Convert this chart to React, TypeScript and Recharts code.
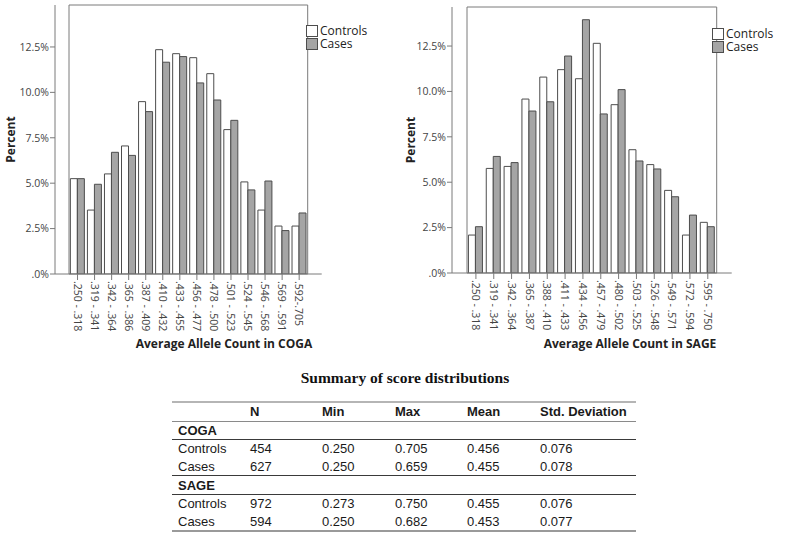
import { BarChart, Bar, XAxis, YAxis, Legend, ReferenceArea } from "recharts";

const cogaBins = [
  ".250 - .318", ".319 - .341", ".342 - .364", ".365 - .386", ".387 - .409",
  ".410 - .432", ".433 - .455", ".456 - .477", ".478 - .500", ".501 - .523",
  ".524 - .545", ".546 - .568", ".569 - .591", ".592-.705",
];
const cogaControls = [5.25, 3.52, 5.51, 7.05, 9.49, 12.35, 12.13, 11.91, 11.03, 7.95, 5.07, 3.52, 2.64, 2.64];
const cogaCases = [5.25, 4.94, 6.7, 6.53, 8.94, 11.66, 11.97, 10.52, 9.58, 8.46, 4.63, 5.12, 2.39, 3.36];

const sageBins = [
  ".250 - .318", ".319 - .341", ".342 - .364", ".365 - .387", ".388 - .410",
  ".411 - .433", ".434 - .456", ".457 - .479", ".480 - .502", ".503 - .525",
  ".526 - .548", ".549 - .571", ".572 - .594", ".595 - .750",
];
const sageControls = [2.09, 5.76, 5.87, 9.58, 10.79, 11.2, 10.7, 12.65, 9.27, 6.79, 5.97, 4.55, 2.09, 2.79];
const sageCases = [2.55, 6.42, 6.08, 8.92, 9.43, 11.95, 13.95, 8.76, 10.1, 6.17, 5.73, 4.2, 3.19, 2.55];

const percentTicks = [0, 2.5, 5, 7.5, 10, 12.5];

const tableHeader = ["", "N", "Min", "Max", "Mean", "Std. Deviation"];
const tableGroups = [
  {
    name: "COGA",
    rows: [
      ["Controls", "454", "0.250", "0.705", "0.456", "0.076"],
      ["Cases", "627", "0.250", "0.659", "0.455", "0.078"],
    ],
  },
  {
    name: "SAGE",
    rows: [
      ["Controls", "972", "0.273", "0.750", "0.455", "0.076"],
      ["Cases", "594", "0.250", "0.682", "0.453", "0.077"],
    ],
  },
];

const FONT = "'Open Sans', sans-serif";
const EDGE = "#7a7a7a";
const BAR_EDGE = "#4d4d4d";
const CASE_FILL = "#a5a5a5";

const series = [
  { key: "controls", name: "Controls", fill: "#ffffff" },
  { key: "cases", name: "Cases", fill: CASE_FILL },
];

const fmtPct = (v: number) => (v === 0 ? ".0%" : `${v.toFixed(1)}%`);

function BinTick({ x, y, payload }: any) {
  return (
    <text
      x={x}
      y={y}
      dy="0.36em"
      textAnchor="start"
      transform={`rotate(90, ${x}, ${y})`}
      fontFamily={FONT}
      fontSize={10.5}
      fill="#444"
    >
      {payload.value}
    </text>
  );
}

function LegendBox() {
  return (
    <div style={{ fontFamily: FONT, fontSize: 12, color: "#222" }}>
      {series.map((s) => (
        <div key={s.key} style={{ display: "flex", alignItems: "center", height: 13, lineHeight: "13px" }}>
          <span
            style={{
              display: "inline-block",
              width: 10,
              height: 10,
              border: `1px solid ${BAR_EDGE}`,
              background: s.fill,
              marginRight: 2,
            }}
          />
          {s.name}
        </div>
      ))}
    </div>
  );
}

interface HistProps {
  bins: string[];
  controls: number[];
  cases: number[];
  yMax: number;
  yWidth: number;
  margin: { top: number; right: number; bottom: number; left: number };
  xHeight: number;
  pad: { left: number; right: number };
  legendPos: { top: number; left: number };
}

function Histogram({ bins, controls, cases, yMax, yWidth, margin, xHeight, pad, legendPos }: HistProps) {
  const data = bins.map((bin, i) => ({ bin, controls: controls[i], cases: cases[i] }));
  return (
    <BarChart width={400} height={350} data={data} margin={margin} barGap={0} barCategoryGap="8%">
      <XAxis
        dataKey="bin"
        interval={0}
        height={xHeight}
        padding={pad}
        tick={<BinTick />}
        tickSize={6}
        tickMargin={1}
        tickLine={{ stroke: EDGE }}
        axisLine={{ stroke: EDGE }}
      />
      <YAxis
        width={yWidth}
        domain={[0, yMax]}
        ticks={percentTicks}
        tickFormatter={fmtPct}
        tickSize={5}
        tickMargin={1}
        tick={{ fontFamily: FONT, fontSize: 10.5, fill: "#444" }}
        tickLine={{ stroke: EDGE }}
        axisLine={{ stroke: EDGE }}
        allowDataOverflow
        label={{
          value: "Percent",
          angle: -90,
          position: "insideLeft",
          offset: 11,
          style: { textAnchor: "middle", fontFamily: FONT, fontSize: 12, fontWeight: 700, fill: "#222" },
        }}
      />
      <ReferenceArea y1={0} y2={yMax} fill="none" fillOpacity={0} stroke={EDGE} strokeWidth={1} ifOverflow="visible" />
      <Legend
        layout="vertical"
        verticalAlign="top"
        align="right"
        content={<LegendBox />}
        wrapperStyle={{ top: legendPos.top, left: legendPos.left, width: "auto" }}
      />
      {series.map((s) => (
        <Bar
          key={s.key}
          dataKey={s.key}
          name={s.name}
          fill={s.fill}
          stroke={BAR_EDGE}
          strokeWidth={1}
          isAnimationActive={false}
        />
      ))}
    </BarChart>
  );
}

const axisTitle: React.CSSProperties = {
  position: "absolute",
  top: 335,
  width: 300,
  textAlign: "center",
  fontFamily: FONT,
  fontSize: 12,
  fontWeight: 700,
  color: "#222",
};

const cellBase: React.CSSProperties = {
  padding: "0 0 0 6px",
  height: 17.6,
  lineHeight: "17px",
  textAlign: "left",
  whiteSpace: "nowrap",
};
const colWidths = [72, 72, 73, 72, 73, 102];
const darkLine = "1px solid #3a3a3a";

export default function App() {
  return (
    <div style={{ position: "absolute", left: 0, top: 0, width: 800, height: 537, background: "#fff" }}>
      <div style={{ position: "absolute", left: 0, top: 0 }}>
        <Histogram
          bins={cogaBins}
          controls={cogaControls}
          cases={cogaCases}
          yMax={14.81}
          yWidth={55}
          margin={{ top: 5, right: 17, bottom: 0, left: 0 }}
          xHeight={76}
          pad={{ left: 14, right: 14 }}
          legendPos={{ top: 24, left: 306 }}
        />
      </div>
      <div style={{ ...axisTitle, left: 74 }}>Average Allele Count in COGA</div>
      <div style={{ position: "absolute", left: 400, top: 0 }}>
        <Histogram
          bins={sageBins}
          controls={sageControls}
          cases={sageCases}
          yMax={14.65}
          yWidth={52}
          margin={{ top: 7, right: 7, bottom: 0, left: 0 }}
          xHeight={77}
          pad={{ left: 15, right: 15 }}
          legendPos={{ top: 27, left: 312 }}
        />
      </div>
      <div style={{ ...axisTitle, left: 480 }}>Average Allele Count in SAGE</div>
      <div
        style={{
          position: "absolute",
          left: 150,
          top: 369,
          width: 510,
          textAlign: "center",
          fontFamily: "'Liberation Serif', 'Times New Roman', serif",
          fontWeight: 700,
          fontSize: 15.5,
          color: "#111",
        }}
      >
        Summary of score distributions
      </div>
      <table
        style={{
          position: "absolute",
          left: 172,
          top: 401,
          borderCollapse: "collapse",
          fontFamily: "'Liberation Sans', Arial, sans-serif",
          fontSize: 13,
          color: "#1a1a1a",
          tableLayout: "fixed",
          width: colWidths.reduce((a, b) => a + b, 0),
        }}
      >
        <colgroup>
          {colWidths.map((w, i) => (
            <col key={i} style={{ width: w }} />
          ))}
        </colgroup>
        <tbody>
          <tr style={{ borderTop: "2px solid #b5b5b5", borderBottom: "1px solid #8a8a8a" }}>
            {tableHeader.map((h, i) => (
              <th key={i} style={{ ...cellBase, fontWeight: 700 }}>
                {h}
              </th>
            ))}
          </tr>
          {tableGroups.map((g, gi) => [
            <tr key={g.name} style={{ borderTop: gi > 0 ? darkLine : undefined, borderBottom: darkLine }}>
              <td colSpan={6} style={{ ...cellBase, fontWeight: 700 }}>
                {g.name}
              </td>
            </tr>,
            ...g.rows.map((r, ri) => (
              <tr
                key={g.name + ri}
                style={{ borderBottom: gi === tableGroups.length - 1 && ri === g.rows.length - 1 ? "2px solid #9a9a9a" : undefined }}
              >
                {r.map((c, ci) => (
                  <td key={ci} style={cellBase}>
                    {c}
                  </td>
                ))}
              </tr>
            )),
          ])}
        </tbody>
      </table>
    </div>
  );
}
